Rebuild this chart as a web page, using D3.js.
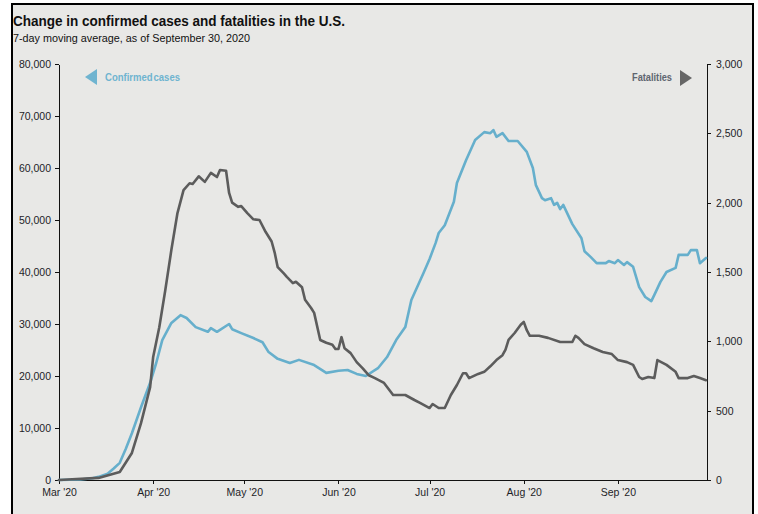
<!DOCTYPE html>
<html>
<head>
<meta charset="utf-8">
<script src="https://cdn.jsdelivr.net/npm/d3@7"></script>
<style>
  html, body { margin: 0; padding: 0; background: #ffffff; }
  svg { display: block; }
  .tick text { font-family: "Liberation Sans", Arial, sans-serif; font-size: 10.5px; fill: #1e1e28; }
  .tick line, .domain { stroke: #111; stroke-width: 1; shape-rendering: crispEdges; }
</style>
</head>
<body>
<svg id="chart" width="758" height="514"></svg>
<script>
// 7-day moving average of new confirmed cases (left axis)
const caseDates = [
  "2020-03-01","2020-03-08","2020-03-12","2020-03-14","2020-03-17","2020-03-19","2020-03-21","2020-03-23",
  "2020-03-25","2020-03-28","2020-03-31","2020-04-02","2020-04-04","2020-04-07","2020-04-10","2020-04-12",
  "2020-04-15","2020-04-19","2020-04-20","2020-04-22","2020-04-26","2020-04-27","2020-04-30","2020-05-04",
  "2020-05-07","2020-05-09","2020-05-12","2020-05-16","2020-05-19","2020-05-24","2020-05-28","2020-06-01",
  "2020-06-04","2020-06-07","2020-06-10","2020-06-14","2020-06-17","2020-06-20","2020-06-23","2020-06-25",
  "2020-06-29","2020-07-01","2020-07-03","2020-07-04","2020-07-06","2020-07-09","2020-07-10","2020-07-13",
  "2020-07-16","2020-07-19","2020-07-21","2020-07-22","2020-07-23","2020-07-25","2020-07-27","2020-07-30",
  "2020-08-02","2020-08-04","2020-08-05","2020-08-07","2020-08-08","2020-08-10","2020-08-11","2020-08-12",
  "2020-08-13","2020-08-14","2020-08-17","2020-08-20","2020-08-21","2020-08-23","2020-08-25","2020-08-28",
  "2020-08-29","2020-08-31","2020-09-01","2020-09-03","2020-09-04","2020-09-06","2020-09-08","2020-09-10",
  "2020-09-12","2020-09-13","2020-09-15","2020-09-17","2020-09-20","2020-09-21","2020-09-24","2020-09-25",
  "2020-09-27","2020-09-28","2020-09-30"
];
const caseValues = [
  0, 100, 350, 600, 1200, 2200, 3300, 6000,
  9000, 14000, 18700, 22500, 26900, 30200, 31700, 31150,
  29400, 28500, 29200, 28500, 30000, 29000, 28250, 27300,
  26500, 24600, 23300, 22500, 23100, 22100, 20600, 21000,
  21150, 20400, 20000, 21500, 23650, 26900, 29400, 34600,
  39800, 42500, 45600, 47500, 49000, 53500, 57100, 61500,
  65400, 66900, 66700, 67300, 66000, 66700, 65200, 65200,
  63100, 60000, 56700, 54200, 53800, 54200, 52900, 53300,
  52100, 52900, 49200, 46500, 44000, 42900, 41700, 41700,
  42100, 41700, 42300, 41350, 41900, 41000, 37100, 35200,
  34400, 35600, 38100, 40000, 40800, 43300, 43300, 44200,
  44200, 41700, 42700
];

// 7-day moving average of fatalities (right axis)
const deathDates = [
  "2020-03-01","2020-03-14","2020-03-21","2020-03-25","2020-03-28","2020-03-31","2020-04-01","2020-04-03",
  "2020-04-05","2020-04-07","2020-04-09","2020-04-11","2020-04-13","2020-04-14","2020-04-16","2020-04-18",
  "2020-04-20","2020-04-22","2020-04-23","2020-04-25","2020-04-26","2020-04-27","2020-04-29","2020-04-30",
  "2020-05-02","2020-05-04","2020-05-06","2020-05-08","2020-05-10","2020-05-11","2020-05-12","2020-05-14",
  "2020-05-15","2020-05-17","2020-05-18","2020-05-20","2020-05-21","2020-05-23","2020-05-24","2020-05-26",
  "2020-05-28","2020-05-30","2020-05-31","2020-06-01","2020-06-02","2020-06-03","2020-06-05","2020-06-07",
  "2020-06-09","2020-06-11","2020-06-13","2020-06-16","2020-06-19","2020-06-23","2020-06-26","2020-06-28",
  "2020-07-01","2020-07-02","2020-07-04","2020-07-06","2020-07-08","2020-07-10","2020-07-12","2020-07-13",
  "2020-07-14","2020-07-17","2020-07-19","2020-07-21","2020-07-23","2020-07-25","2020-07-26","2020-07-27",
  "2020-07-29","2020-07-31","2020-08-01","2020-08-02","2020-08-03","2020-08-06","2020-08-09","2020-08-13",
  "2020-08-17","2020-08-18","2020-08-19","2020-08-21","2020-08-24","2020-08-27","2020-08-30","2020-09-01",
  "2020-09-04","2020-09-06","2020-09-08","2020-09-09","2020-09-11","2020-09-13","2020-09-14","2020-09-17",
  "2020-09-20","2020-09-21","2020-09-24","2020-09-26","2020-09-28","2020-09-30"
];
const deathValues = [
  0, 15, 58, 195, 410, 670, 887, 1100,
  1370, 1660, 1925, 2090, 2140, 2135, 2190, 2150,
  2215, 2185, 2235, 2230, 2070, 2000, 1970, 1975,
  1925, 1880, 1875, 1790, 1720, 1640, 1535, 1490,
  1465, 1420, 1430, 1390, 1300, 1240, 1205, 1010,
  990, 975, 945, 945, 1030, 950, 915, 850,
  805, 755, 735, 700, 613, 613, 577, 555,
  519, 548, 519, 519, 613, 685, 770, 770,
  735, 765, 780, 820, 865, 900, 940, 1010,
  1060, 1120, 1140, 1080, 1040, 1040, 1025, 995,
  995, 1040, 1025, 980, 950, 923, 908, 865,
  850, 830, 743, 728, 743, 735, 865, 830,
  780, 735, 735, 750, 735, 720
];

const monthTicks = ["2020-03-01","2020-04-01","2020-05-01","2020-06-01","2020-07-01","2020-08-01","2020-09-01"];
const caseTicks = [0, 10000, 20000, 30000, 40000, 50000, 60000, 70000, 80000];
const deathTicks = [0, 500, 1000, 1500, 2000, 2500, 3000];

const titleText = "Change in confirmed cases and fatalities in the U.S.";
const subtitleText = "7-day moving average, as of September 30, 2020";
const caseLabel = "Confirmed cases";
const deathLabel = "Fatalities";

const parse = d3.timeParse("%Y-%m-%d");
const cases = caseDates.map((d, i) => ({ date: parse(d), value: caseValues[i] }));
const deaths = deathDates.map((d, i) => ({ date: parse(d), value: deathValues[i] }));

const svg = d3.select("#chart");
const blue = "#66afcc";
const grey = "#5c5c5c";
const narrowFont = "'Liberation Sans Narrow', 'Arial Narrow', 'Liberation Sans', Arial, sans-serif";

// panel background and frame
svg.append("rect").attr("x", 12).attr("y", 4).attr("width", 741).attr("height", 520)
  .attr("fill", "#e8e8e6").attr("stroke", "#000").attr("stroke-width", 2);

const plot = { left: 59, right: 706, top: 64, bottom: 480 };

const x = d3.scaleTime()
  .domain([parse("2020-03-01"), parse("2020-09-30")])
  .range([plot.left, plot.right]);
const yCases = d3.scaleLinear().domain([0, 80000]).range([plot.bottom, plot.top]);
const yDeaths = d3.scaleLinear().domain([0, 3000]).range([plot.bottom, plot.top]);

// title block (condensed to the panel's header width)
svg.append("text").attr("x", 13).attr("y", 26)
  .attr("textLength", 332).attr("lengthAdjust", "spacingAndGlyphs")
  .style("font-family", narrowFont)
  .style("font-weight", "bold").style("font-size", "15.5px").attr("fill", "#111")
  .text(titleText);
svg.append("text").attr("x", 13).attr("y", 42)
  .attr("textLength", 237).attr("lengthAdjust", "spacingAndGlyphs")
  .style("font-family", narrowFont)
  .style("font-size", "11.5px").attr("fill", "#111")
  .text(subtitleText);

// axes
svg.append("g").attr("transform", `translate(${plot.left},0)`)
  .call(d3.axisLeft(yCases).tickValues(caseTicks).tickFormat(d3.format(",")).tickSize(4).tickSizeOuter(0).tickPadding(4));
svg.append("g").attr("transform", `translate(${plot.right + 1},0)`)
  .call(d3.axisRight(yDeaths).tickValues(deathTicks).tickFormat(d3.format(",")).tickSize(4).tickSizeOuter(0).tickPadding(5));
svg.append("g").attr("transform", `translate(0,${plot.bottom})`)
  .call(d3.axisBottom(x).tickValues(monthTicks.map(parse)).tickFormat(d3.timeFormat("%b '%y")).tickSize(4).tickSizeOuter(0).tickPadding(5));

svg.selectAll(".tick text").attr("fill", "#1e1e28");

// series
const lineCases = d3.line().x(d => x(d.date)).y(d => yCases(d.value));
const lineDeaths = d3.line().x(d => x(d.date)).y(d => yDeaths(d.value));

svg.append("path").datum(cases).attr("d", lineCases)
  .attr("fill", "none").attr("stroke", blue).attr("stroke-width", 2.6)
  .attr("stroke-linejoin", "round").attr("stroke-linecap", "round");
svg.append("path").datum(deaths).attr("d", lineDeaths)
  .attr("fill", "none").attr("stroke", grey).attr("stroke-width", 2.6)
  .attr("stroke-linejoin", "round").attr("stroke-linecap", "round");

// legend markers
svg.append("path").attr("d", "M85,77 L97,69 L97,85 Z").attr("fill", "#6fb4d0");
svg.append("text").attr("x", 105).attr("y", 81)
  .attr("textLength", 75).attr("lengthAdjust", "spacingAndGlyphs")
  .style("font-family", narrowFont).style("font-size", "11px").style("font-weight", "bold")
  .style("word-spacing", "-2px").attr("fill", "#6fb4d0").text(caseLabel);

svg.append("path").attr("d", "M692,78 L680,70 L680,86 Z").attr("fill", "#666");
svg.append("text").attr("x", 632).attr("y", 81)
  .attr("textLength", 40).attr("lengthAdjust", "spacingAndGlyphs")
  .style("font-family", narrowFont).style("font-size", "11px").style("font-weight", "bold")
  .attr("fill", "#5f6670").text(deathLabel);
</script>
</body>
</html>
